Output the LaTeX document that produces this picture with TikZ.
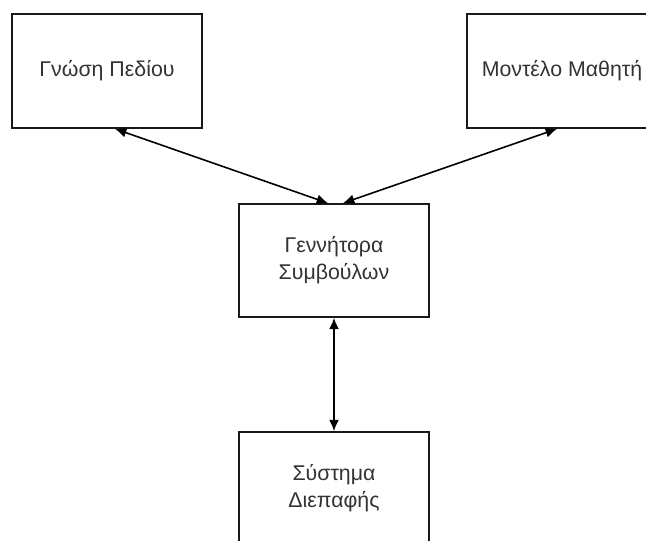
\documentclass[tikz,border=0pt]{standalone}
\usepackage{fontspec}
\setmainfont{Liberation Sans}
\usetikzlibrary{arrows.meta}
\begin{document}
\begin{tikzpicture}[x=0.75pt,y=-0.75pt,
  block/.style={draw=black!90, line width=1.3pt, fill=white, minimum width=142.5pt,
    minimum height=85.5pt, inner sep=0pt, align=center, text=black!80,
    font=\fontsize{16}{20.25}\selectfont},
  link/.style={line width=1.2pt, {Latex[length=8.5pt,width=7.5pt]}-{Latex[length=8.5pt,width=7.5pt]}}]
  \useasboundingbox (0,0) rectangle (646,540);
  \clip (0,0) rectangle (646,540);
  \node[block] (gp) at (107,71) {Γνώση Πεδίου};
  \node[block] (mm) at (562,71) {Μοντέλο Μαθητή};
  \node[block, minimum height=84.75pt] (gs) at (334,260.5) {Γεννήτορα\\Συμβούλων};
  \node[block, minimum height=84.75pt] (sd) at (334,488.5) {Σύστημα\\Διεπαφής};
  \draw[link] ([xshift=6pt]gp.south) -- ([xshift=-4.5pt]gs.north);
  \draw[link] ([xshift=-3.75pt]mm.south) -- ([xshift=6.75pt]gs.north);
  \draw[link] (gs.south) -- (sd.north);
\end{tikzpicture}
\end{document}
